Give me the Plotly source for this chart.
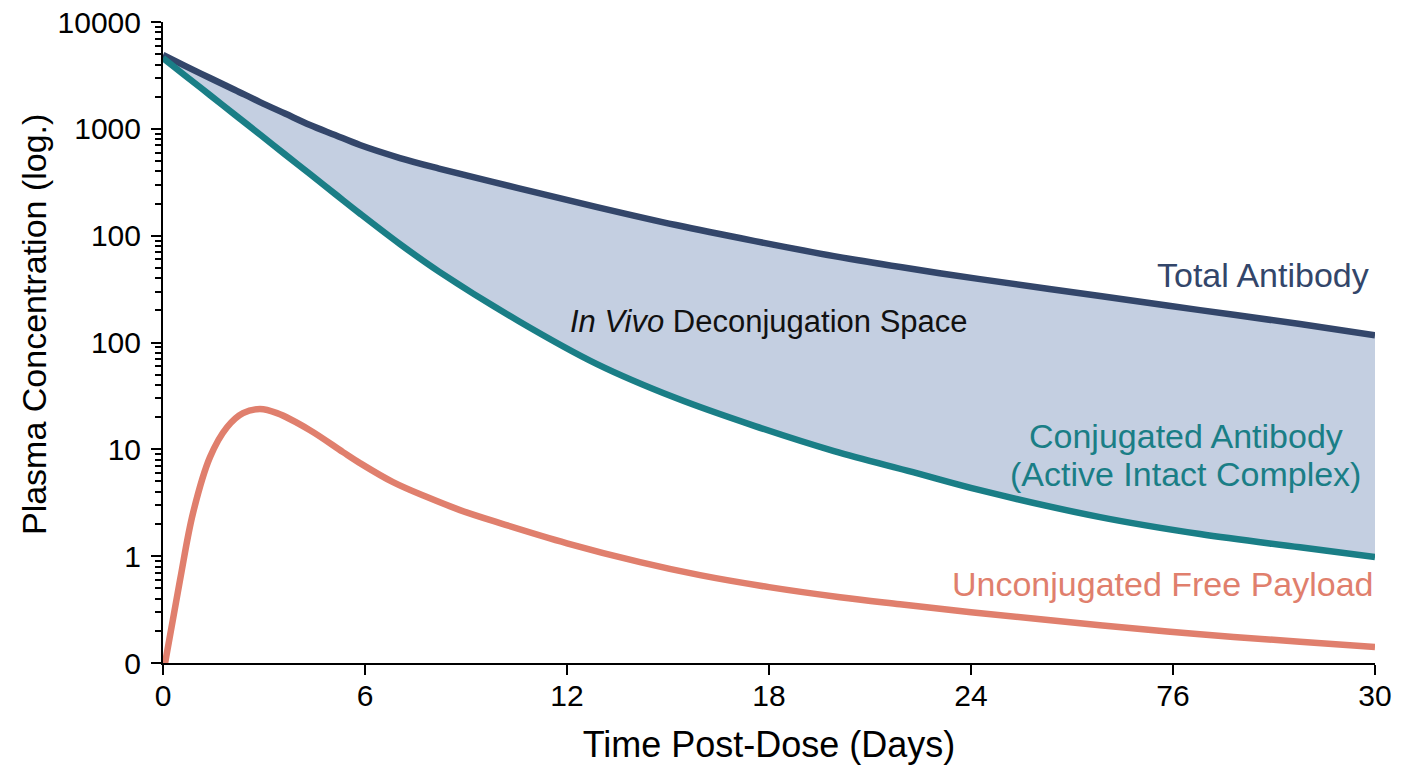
import plotly.graph_objects as go

# ---- data ----
days = [0, 0.653, 1.396, 2.139, 2.881, 3.624, 4.366, 5.109, 5.851, 7.040, 8.198, 10.545,
        12.891, 15.238, 17.584, 19.931, 22.277, 24.267, 27.832, 30.802, 33.772, 36.0]
total_antibody = [49100, 38900, 29900, 23100, 17800, 13900, 10860, 8750, 7050, 5330, 4250, 2790,
                  1853, 1257, 890, 644, 487, 392, 272, 201, 149, 117]
conjugated_antibody = [46000, 31600, 20700, 13520, 8850, 5770, 3775, 2462, 1610, 834, 461, 160,
                       62.8, 30.2, 16.5, 9.62, 6.12, 4.15, 2.32, 1.61, 1.21, 0.979]

payload_days = [0.05, 0.505, 0.891, 1.396, 1.901, 2.376, 2.881, 3.386, 4.366, 5.346, 5.851, 6.832,
                7.842, 8.822, 10.01, 12.0, 14.17, 15.95, 18.0, 20.11, 21.89, 24.0, 27.83, 30.80,
                33.77, 36.0]
free_payload = [0.095, 0.596, 2.53, 8.45, 16.1, 21.8, 23.8, 21.8, 15.1, 9.42, 7.43, 4.93,
                3.57, 2.70, 2.04, 1.32, 0.879, 0.664, 0.513, 0.413, 0.355, 0.299, 0.226, 0.186,
                0.158, 0.141]

x_tickvals = [0, 6, 12, 18, 24, 30, 36]
x_ticktext = ["0", "6", "12", "18", "24", "76", "30"]
y_tickvals = [0.1, 1, 10, 100, 1000, 10000, 100000]
y_ticktext = ["0", "1", "10", "100", "100", "1000", "10000"]

NAVY = "#33466a"
TEAL = "#1a7e86"
SALMON = "#e07f6d"
FILL = "#c4cfe1"
FONT = "Liberation Sans, Arial, sans-serif"
SMOOTH = 1.0

fig = go.Figure()

# shaded deconjugation space
fig.add_trace(go.Scatter(x=days, y=total_antibody, mode="lines",
                         line=dict(width=0, shape="spline", smoothing=SMOOTH),
                         hoverinfo="skip", showlegend=False))
fig.add_trace(go.Scatter(x=days, y=conjugated_antibody, mode="lines", fill="tonexty", fillcolor=FILL,
                         line=dict(width=0, shape="spline", smoothing=SMOOTH),
                         hoverinfo="skip", showlegend=False))

fig.add_trace(go.Scatter(x=days, y=total_antibody, mode="lines", name="Total Antibody",
                         line=dict(color=NAVY, width=6.5, shape="spline", smoothing=SMOOTH), showlegend=False))
fig.add_trace(go.Scatter(x=days, y=conjugated_antibody, mode="lines", name="Conjugated Antibody",
                         line=dict(color=TEAL, width=6.5, shape="spline", smoothing=SMOOTH), showlegend=False))
fig.add_trace(go.Scatter(x=payload_days, y=free_payload, mode="lines", name="Unconjugated Free Payload",
                         line=dict(color=SALMON, width=6.5, shape="spline", smoothing=SMOOTH), showlegend=False))

fig.add_annotation(x=0.9965, y=0.605, xref="paper", yref="paper", text="Total Antibody", showarrow=False,
                   xanchor="right", yanchor="middle", font=dict(family=FONT, size=34, color=NAVY))
fig.add_annotation(x=0.334, y=0.533, xref="paper", yref="paper",
                   text="<i>In Vivo</i> Deconjugation Space", showarrow=False,
                   xanchor="left", yanchor="middle", font=dict(family=FONT, size=31, color="#111111"))
fig.add_annotation(x=0.844, y=0.354, xref="paper", yref="paper",
                   text="Conjugated Antibody", showarrow=False,
                   xanchor="center", yanchor="middle", font=dict(family=FONT, size=34, color=TEAL))
fig.add_annotation(x=0.844, y=0.295, xref="paper", yref="paper",
                   text="(Active Intact Complex)", showarrow=False,
                   xanchor="center", yanchor="middle", font=dict(family=FONT, size=34, color=TEAL))
fig.add_annotation(x=1.0005, y=0.123, xref="paper", yref="paper", text="Unconjugated Free Payload",
                   showarrow=False, xanchor="right", yanchor="middle", font=dict(family=FONT, size=34, color=SALMON))

# y-axis title placed as rotated text
fig.add_annotation(x=-0.1065, y=0.5287, xref="paper", yref="paper", text="Plasma Concentration (log.)",
                   textangle=-90, showarrow=False, xanchor="center", yanchor="middle",
                   font=dict(family=FONT, size=34, color="black"))

fig.update_layout(
    width=1404, height=766,
    margin=dict(l=163, r=29, t=22, b=103),
    paper_bgcolor="white", plot_bgcolor="white",
    font=dict(family=FONT, color="black"),
    xaxis=dict(range=[0, 36], tickmode="array", tickvals=x_tickvals, ticktext=x_ticktext,
               showline=True, linecolor="black", linewidth=2, ticks="outside", ticklen=10, tickwidth=2,
               tickcolor="black", showgrid=False, zeroline=False, tickfont=dict(size=30),
               ticklabelstandoff=-5, automargin=False,
               title=dict(text="Time Post-Dose (Days)", font=dict(size=36), standoff=21)),
    yaxis=dict(type="log", range=[-1, 5], tickmode="array", tickvals=y_tickvals, ticktext=y_ticktext,
               showline=True, linecolor="black", linewidth=2, ticks="outside", ticklen=10, tickwidth=2,
               tickcolor="black", showgrid=False, zeroline=False, tickfont=dict(size=30),
               ticklabelstandoff=4, automargin=False,
               minor=dict(ticks="outside", ticklen=6, tickwidth=1.5, tickcolor="black", dtick="D1", showgrid=False)),
)

fig.write_html("out.html")
